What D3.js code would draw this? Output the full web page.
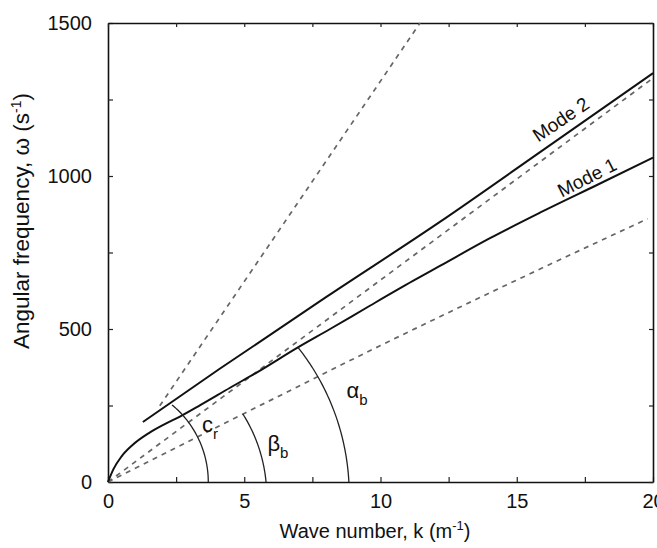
<!DOCTYPE html>
<html><head><meta charset="utf-8">
<script src="https://cdn.jsdelivr.net/npm/d3@7"></script>
<style>
body{margin:0;background:#fff;}
svg{display:block;}
text{font-family:"Liberation Sans",Arial,sans-serif;fill:#111;}
</style></head>
<body>
<svg id="chart" width="657" height="548"></svg>
<script>
// ---- data ----
const kTicksMajor = [0, 5, 10, 15, 20];
const kTicksMinor = [0, 2.5, 5, 7.5, 10, 12.5, 15, 17.5, 20];
const wTicksMajor = [0, 500, 1000, 1500];
const wTicksMinor = [0, 250, 500, 750, 1000, 1250, 1500];

// solid dispersion curves [k, omega]
const mode1 = [[0,0],[0.2,42],[0.5,84],[0.9,121],[1.5,160],[2.1,190],[2.64,214],[3.4,252],[4.48,308],[5.5,360],[6.97,440],[8.15,500],[9.61,576],[11.19,657],[12.18,706],[14,796],[15.85,880],[18,973],[20,1060]];
const mode2 = [[1.28,196],[4.1,370],[8,604],[12.18,850],[16,1087],[20,1336]];

// dashed reference lines [k, omega]
const lineSteep = [[1.9,249],[11.45,1500]];
const lineAlpha = [[0,0],[20,1320]];
const lineBeta  = [[0,0],[5,224],[10,446],[15,660],[19.8,860]];

// angle arcs: start on k axis, end point [k, omega]
const arcLabels = ["c", "β", "α"];
const arcSubs   = ["r", "b", "b"];
const arcStartK = [3.68, 5.8, 8.84];
const arcEnd    = [[2.35,252],[4.95,222],[6.97,440]];
const arcLabelPos = [[3.45,163],[5.85,100],[8.75,274]];

const modeNames = ["Mode 1", "Mode 2"];
const modeLabelPos = [[17.58,995],[16.62,1185]];
const modeLabelAngle = [-27, -34];

// ---- drawing ----
const svg = d3.select("#chart");
const x = d3.scaleLinear().domain([0,20]).range([108,653]);
const y = d3.scaleLinear().domain([0,1500]).range([482,23]);

const plot = svg.append("g");

// axes (ticks inward)
const fmtX = d => (kTicksMajor.includes(d) ? d : "");
const fmtY = d => (wTicksMajor.includes(d) ? d : "");
const axB = plot.append("g").attr("transform",`translate(0,${y(0)})`)
  .call(d3.axisBottom(x).tickValues(kTicksMinor).tickFormat(fmtX).tickSize(-5).tickSizeOuter(0).tickPadding(12));
const axL = plot.append("g").attr("transform",`translate(${x(0)},0)`)
  .call(d3.axisLeft(y).tickValues(wTicksMinor).tickFormat(fmtY).tickSize(-5).tickSizeOuter(0).tickPadding(16));
const axT = plot.append("g").attr("transform",`translate(0,${y(1500)})`)
  .call(d3.axisTop(x).tickValues(kTicksMinor).tickFormat("").tickSize(-4).tickSizeOuter(0));
const axR = plot.append("g").attr("transform",`translate(${x(20)},0)`)
  .call(d3.axisRight(y).tickValues(wTicksMinor).tickFormat("").tickSize(-4).tickSizeOuter(0));
[axB,axL,axT,axR].forEach(a=>{
  a.select(".domain").attr("stroke","#111").attr("stroke-width",1.6);
  a.selectAll(".tick line").attr("stroke","#222").attr("stroke-width",1.2);
  a.selectAll(".tick text").attr("font-size",20).attr("fill","#111")
   .attr("font-family",'"Liberation Sans",Arial,sans-serif');
});

const curve = d3.line().x(d=>x(d[0])).y(d=>y(d[1])).curve(d3.curveMonotoneX);

// dashed lines
[lineSteep, lineAlpha, lineBeta].forEach(L=>{
  plot.append("path").datum(L).attr("d", curve).attr("fill","none")
    .attr("stroke","#666").attr("stroke-width",1.7).attr("stroke-dasharray","5,5");
});

// modes
[mode1, mode2].forEach(M=>{
  plot.append("path").datum(M).attr("d", curve).attr("fill","none")
    .attr("stroke","#111").attr("stroke-width",2);
});

// arcs
const x0 = x(0), y0 = y(0);
arcStartK.forEach((ks,i)=>{
  const r0 = x(ks) - x0;
  const ex = x(arcEnd[i][0]) - x0, ey = y0 - y(arcEnd[i][1]);
  const r1 = Math.hypot(ex, ey), th = Math.atan2(ey, ex);
  const pts = d3.range(0, 1.0001, 0.02).map(t=>{
    const a = t*th, r = r0 + (r1-r0)*t;
    return [x0 + r*Math.cos(a), y0 - r*Math.sin(a)];
  });
  plot.append("path").attr("d", d3.line()(pts)).attr("fill","none")
    .attr("stroke","#222").attr("stroke-width",1.3);
  const t = plot.append("text").attr("x", x(arcLabelPos[i][0])).attr("y", y(arcLabelPos[i][1]))
    .attr("font-size",22);
  t.append("tspan").text(arcLabels[i]);
  t.append("tspan").attr("font-size",15).attr("dy",7).text(arcSubs[i]);
});

// mode labels
modeNames.forEach((n,i)=>{
  plot.append("text")
    .attr("transform",`translate(${x(modeLabelPos[i][0])},${y(modeLabelPos[i][1])}) rotate(${modeLabelAngle[i]})`)
    .attr("text-anchor","middle").attr("dominant-baseline","central")
    .attr("font-size",19).text(n);
});

// axis titles
const xt = svg.append("text").attr("x",375).attr("y",538).attr("text-anchor","middle").attr("font-size",20);
xt.append("tspan").text("Wave number, k (m");
xt.append("tspan").attr("font-size",13).attr("dy",-8).text("-1");
xt.append("tspan").attr("dy",8).text(")");

const yt = svg.append("text").attr("transform","translate(29,221) rotate(-90)").attr("text-anchor","middle").attr("font-size",22.5);
yt.append("tspan").text("Angular frequency, ω (s");
yt.append("tspan").attr("font-size",14).attr("dy",-8).text("-1");
yt.append("tspan").attr("dy",8).text(")");
</script>
</body></html>
